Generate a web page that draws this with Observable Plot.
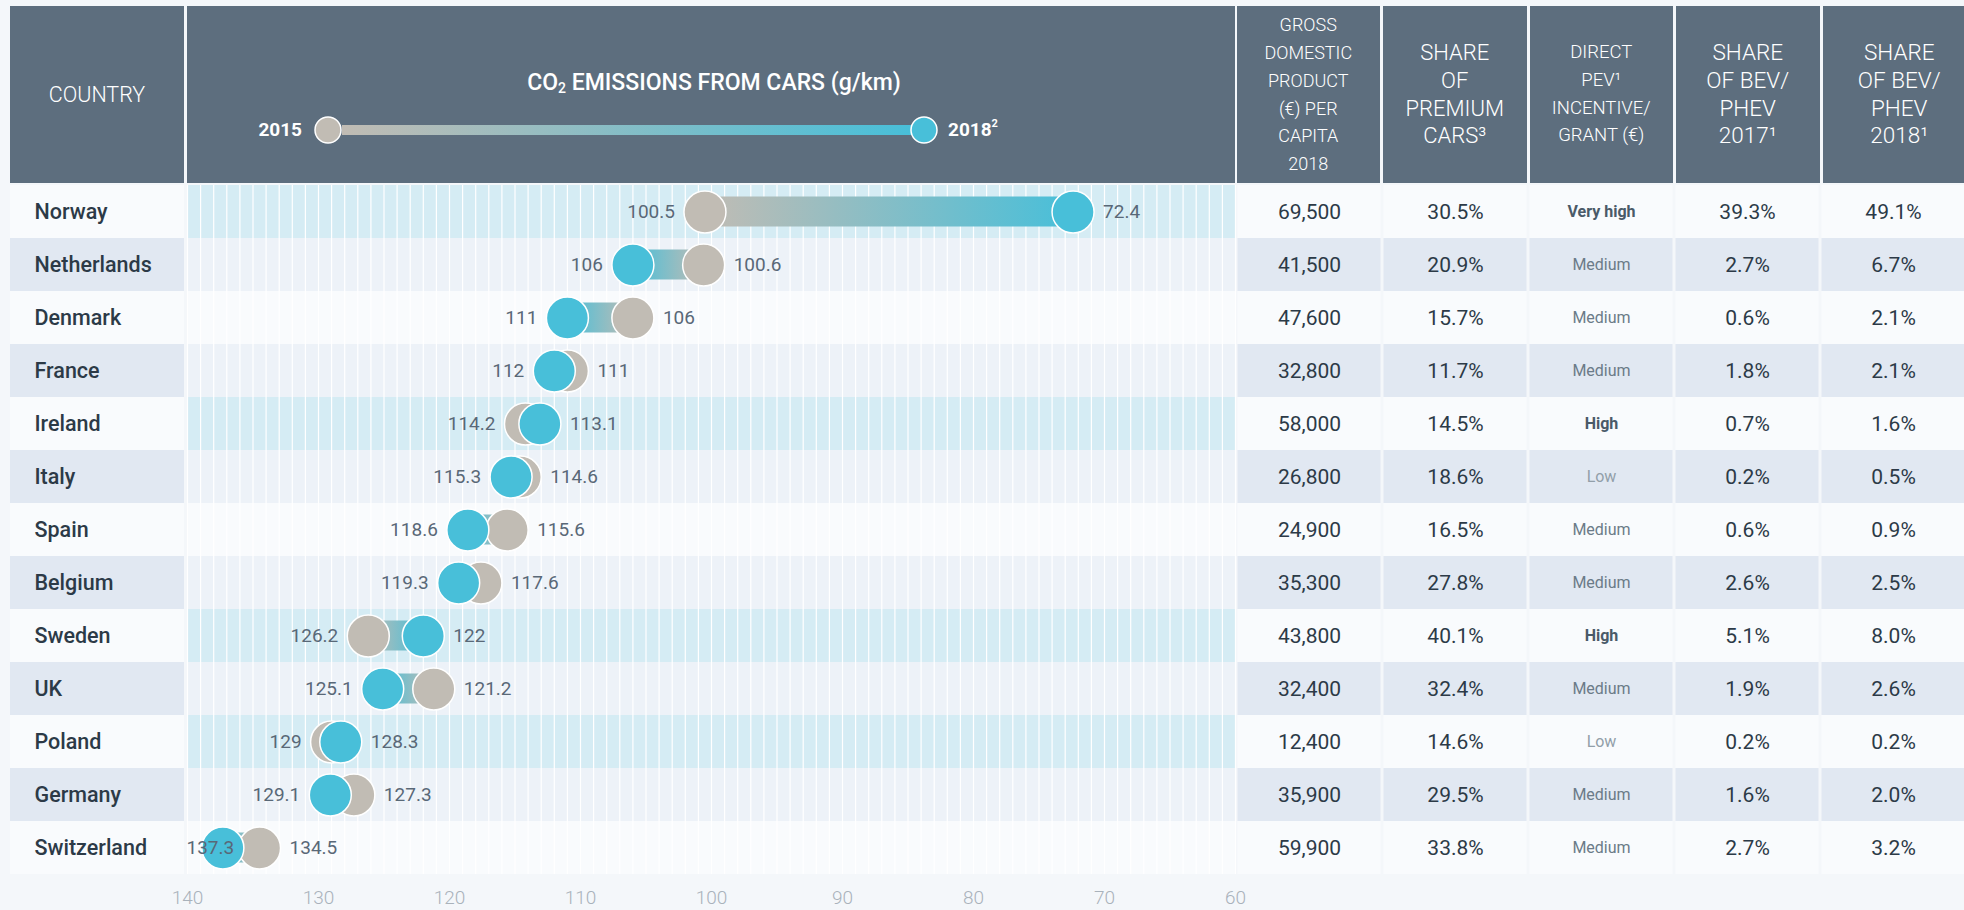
<!DOCTYPE html>
<html>
<head>
<meta charset="utf-8">
<script src="https://cdn.jsdelivr.net/npm/d3@7"></script>
<script src="https://cdn.jsdelivr.net/npm/@observablehq/plot@0.6"></script>
<style>
html, body { margin: 0; padding: 0; overflow: hidden; }
body { width: 1964px; height: 910px; background: #f4f7fa; font-family: Roboto, "Open Sans", sans-serif; position: relative; }
svg { max-width: none !important; }
.box { position: absolute; }
.hdr { position: absolute; top: 6px; height: 177px; background: #5d6e7e; color: #fff; display: flex; align-items: center; justify-content: center; text-align: center; font-weight: 300; line-height: 27.7px; }
</style>
</head>
<body>
<script>
// ---------------- data ----------------
const countries = ["Norway", "Netherlands", "Denmark", "France", "Ireland", "Italy", "Spain", "Belgium", "Sweden", "UK", "Poland", "Germany", "Switzerland"];
const co2_2015 = [100.5, 100.6, 106, 111, 114.2, 114.6, 115.6, 117.6, 126.2, 121.2, 129, 127.3, 134.5];
const co2_2018 = [72.4, 106, 111, 112, 113.1, 115.3, 118.6, 119.3, 122, 125.1, 128.3, 129.1, 137.3];
const gdpPerCapita = [69500, 41500, 47600, 32800, 58000, 26800, 24900, 35300, 43800, 32400, 12400, 35900, 59900];
const premiumShare = [30.5, 20.9, 15.7, 11.7, 14.5, 18.6, 16.5, 27.8, 40.1, 32.4, 14.6, 29.5, 33.8];
const pevIncentive = ["Very high", "Medium", "Medium", "Medium", "High", "Low", "Medium", "Medium", "High", "Medium", "Low", "Medium", "Medium"];
const bevShare2017 = [39.3, 2.7, 0.6, 1.8, 0.7, 0.2, 0.6, 2.6, 5.1, 1.9, 0.2, 1.6, 2.7];
const bevShare2018 = [49.1, 6.7, 2.1, 2.1, 1.6, 0.5, 0.9, 2.5, 8.0, 2.6, 0.2, 2.0, 3.2];
const highlighted = ["Norway", "Ireland", "Sweden", "Poland"];
const xTicks = [140, 130, 120, 110, 100, 90, 80, 70, 60];
const countryHeader = "COUNTRY";
const co2Title = ["CO", "2", " EMISSIONS FROM CARS (g/km)"];
const legendYears = ["2015", "2018"];
const tableKeys = ["gdp", "premium", "incentive", "bev2017", "bev2018"];
const tableHeaders = [
  ["GROSS", "DOMESTIC", "PRODUCT", "(€) PER", "CAPITA", "2018"],
  ["SHARE", "OF", "PREMIUM", "CARS³"],
  ["DIRECT", "PEV¹", "INCENTIVE/", "GRANT (€)"],
  ["SHARE", "OF BEV/", "PHEV", "2017¹"],
  ["SHARE", "OF BEV/", "PHEV", "2018¹"]
];

// ---------------- layout / style ----------------
const C = {
  header: "#5d6e7e", rowWhite: "#f9fbfd", rowBlue: "#e1e8f2",
  cyan: "#d5ecf4", pale: "#edf2f8",
  gray: "#c1bcb4", blue: "#48bfd9",
  text: "#2c3a47", label: "#596877", axis: "#a9b2bb"
};
const rowsTop = 185, rowH = 53, plotH = rowH * countries.length;
const co2Left = 187, co2W = 1048;
const tableLeft = 1235, colStep = 146.5;
const fmtPct = d3.format(".1f"), fmtGdp = d3.format(",");

const rows = countries.map((c, i) => ({
  country: c, i,
  v15: co2_2015[i], v18: co2_2018[i],
  hi: Math.max(co2_2015[i], co2_2018[i]), lo: Math.min(co2_2015[i], co2_2018[i]),
  gdp: gdpPerCapita[i], premium: premiumShare[i], incentive: pevIncentive[i],
  bev2017: bevShare2017[i], bev2018: bevShare2018[i]
}));

function place(el, left, top) {
  const d = document.createElement("div");
  d.className = "box";
  d.style.left = left + "px"; d.style.top = top + "px";
  d.appendChild(el);
  document.body.appendChild(d);
  return d;
}

// ---------------- header ----------------
function hdr(left, width, lines, size) {
  const d = document.createElement("div");
  d.className = "hdr";
  d.style.left = left + "px"; d.style.width = width + "px";
  d.style.fontSize = size + "px";
  d.innerHTML = "<div>" + lines.join("<br>") + "</div>";
  document.body.appendChild(d);
}
hdr(10, 174, [countryHeader], 21.5);
hdr(co2Left, co2W, [], 20);
const hdrSizes = [18, 22, 18.5, 22.5, 22.5];
tableHeaders.forEach((lines, k) => {
  const l = tableLeft + k * colStep + 1.5;
  hdr(l, colStep - 3 + (k === 4 ? 10 : 0), lines, hdrSizes[k]);
});

// CO2 title + legend (svg)
const leg = d3.create("svg").attr("width", co2W).attr("height", 177)
  .style("font-family", "Roboto, sans-serif");
const lg = leg.append("defs").append("linearGradient").attr("id", "legGrad");
lg.append("stop").attr("offset", 0).attr("stop-color", C.gray);
lg.append("stop").attr("offset", 1).attr("stop-color", C.blue);
const title = leg.append("text").attr("x", co2W / 2 + 3).attr("y", 78).attr("text-anchor", "middle")
  .attr("dominant-baseline", "middle").attr("fill", "#fff").attr("font-size", 23).attr("font-weight", 500);
title.append("tspan").text(co2Title[0]);
title.append("tspan").attr("font-size", 14).attr("dy", 5).text(co2Title[1]);
title.append("tspan").attr("dy", -5).text(co2Title[2]);
leg.append("rect").attr("x", 155).attr("y", 119).attr("width", 570).attr("height", 10).attr("fill", "url(#legGrad)");
leg.append("circle").attr("cx", 141).attr("cy", 124).attr("r", 13).attr("fill", C.gray).attr("stroke", "#fff").attr("stroke-width", 1.5);
leg.append("circle").attr("cx", 737).attr("cy", 124).attr("r", 13).attr("fill", C.blue).attr("stroke", "#fff").attr("stroke-width", 1.5);
leg.append("text").attr("x", 115).attr("y", 125).attr("text-anchor", "end").attr("dominant-baseline", "middle")
  .attr("fill", "#fff").attr("font-size", 19).attr("font-weight", 700).text(legendYears[0]);
const t18 = leg.append("text").attr("x", 761).attr("y", 125).attr("dominant-baseline", "middle")
  .attr("fill", "#fff").attr("font-size", 19).attr("font-weight", 700);
t18.append("tspan").text(legendYears[1]);
t18.append("tspan").attr("font-size", 11).attr("dy", -7).text("2");
place(leg.node(), co2Left, 6);

// ---------------- country column ----------------
const countryPlot = Plot.plot({
  width: 174, height: plotH, margin: 0,
  x: {domain: [0, 1], axis: null},
  y: {domain: countries, axis: null, padding: 0},
  color: {type: "identity"},
  style: {background: "transparent", overflow: "visible", fontFamily: "Roboto, sans-serif"},
  marks: [
    Plot.barX(rows, {x1: 0, x2: 1, y: "country", fill: d => d.i % 2 ? C.rowBlue : C.rowWhite}),
    Plot.text(rows, {y: "country", text: "country", frameAnchor: "left", textAnchor: "start", dx: 24, fontSize: 21.5, fontWeight: 500, fill: C.text})
  ]
});
place(countryPlot, 10, rowsTop);

// ---------------- CO2 dumbbell ----------------
const rowFill = d => highlighted.includes(d.country) ? C.cyan : (d.i % 2 ? C.pale : C.rowWhite);
const co2Plot = Plot.plot({
  width: co2W, height: plotH + 36,
  marginLeft: 0, marginRight: 0, marginTop: 0, marginBottom: 36,
  x: {domain: [140, 60], ticks: xTicks, tickSize: 0, tickPadding: 16, tickFormat: d => String(d), label: null},
  y: {domain: countries, axis: null, padding: 0},
  color: {type: "identity"},
  style: {background: "transparent", overflow: "visible", fontFamily: "Roboto, sans-serif", fontSize: "19px", fontWeight: 300, color: C.axis},
  marks: [
    Plot.barX(rows, {x1: 140, x2: 60, y: "country", fill: rowFill}),
    Plot.ruleX(d3.range(60, 141), {stroke: "#ffffff", strokeWidth: 1.2}),
    Plot.barX(rows, {x1: "v15", x2: "v18", y: "country", insetTop: 11.5, insetBottom: 11.5,
      fill: d => d.v18 < d.v15 ? "url(#gradGB)" : "url(#gradBG)"}),
    Plot.dot(rows, {x: "v15", y: "country", r: 21, fill: C.gray, stroke: "#fff", strokeWidth: 1.5}),
    Plot.dot(rows, {x: "v18", y: "country", r: 21, fill: C.blue, stroke: "#fff", strokeWidth: 1.5}),
    Plot.text(rows, {filter: d => d.hi <= 135, x: "hi", y: "country", text: d => String(d.hi), textAnchor: "end", dx: -30, fontSize: 19, fontWeight: 400, fill: C.label}),
    Plot.text(rows, {filter: d => d.hi > 135, y: "country", text: d => String(d.hi), frameAnchor: "left", textAnchor: "start", dx: -1, fontSize: 19, fontWeight: 400, fill: C.label}),
    Plot.text(rows, {x: "lo", y: "country", text: d => String(d.lo), textAnchor: "start", dx: 30, fontSize: 19, fontWeight: 400, fill: C.label})
  ]
});
const defs = d3.select(co2Plot).insert("defs", ":first-child");
function grad(id, c1, c2) {
  const g = defs.append("linearGradient").attr("id", id).attr("x1", 0).attr("x2", 1).attr("y1", 0).attr("y2", 0);
  g.append("stop").attr("offset", 0).attr("stop-color", c1);
  g.append("stop").attr("offset", 1).attr("stop-color", c2);
}
grad("gradGB", C.gray, C.blue);
grad("gradBG", C.blue, C.gray);
place(co2Plot, co2Left, rowsTop);

// ---------------- table ----------------
const cells = rows.flatMap(r => tableKeys.map(k => ({
  country: r.country, i: r.i, key: k,
  text: k === "gdp" ? fmtGdp(r.gdp) : k === "incentive" ? r.incentive : fmtPct(r[k]) + "%",
  level: k === "incentive" ? r.incentive : null
})));
const tablePlot = Plot.plot({
  width: colStep * 5, height: plotH, margin: 0,
  x: {domain: tableKeys, axis: null, padding: 0},
  y: {domain: countries, axis: null, padding: 0},
  color: {type: "identity"},
  style: {background: "transparent", overflow: "visible", fontFamily: "Roboto, sans-serif"},
  marks: [
    Plot.cell(cells, {x: "key", y: "country", fill: d => d.i % 2 ? C.rowBlue : C.rowWhite, insetLeft: 1.5, insetRight: 1.5}),
    Plot.text(cells, {filter: d => d.level === null, x: "key", y: "country", text: "text", fontSize: 21, fill: C.text}),
    Plot.text(cells, {filter: d => d.level === "Very high" || d.level === "High", x: "key", y: "country", text: "text", fontSize: 16, fontWeight: 700, fill: "#4a5a68"}),
    Plot.text(cells, {filter: d => d.level === "Medium", x: "key", y: "country", text: "text", fontSize: 16, fill: "#6b7b88"}),
    Plot.text(cells, {filter: d => d.level === "Low", x: "key", y: "country", text: "text", fontSize: 16, fill: "#929fa9"})
  ]
});
place(tablePlot, tableLeft, rowsTop);
</script>
</body>
</html>
